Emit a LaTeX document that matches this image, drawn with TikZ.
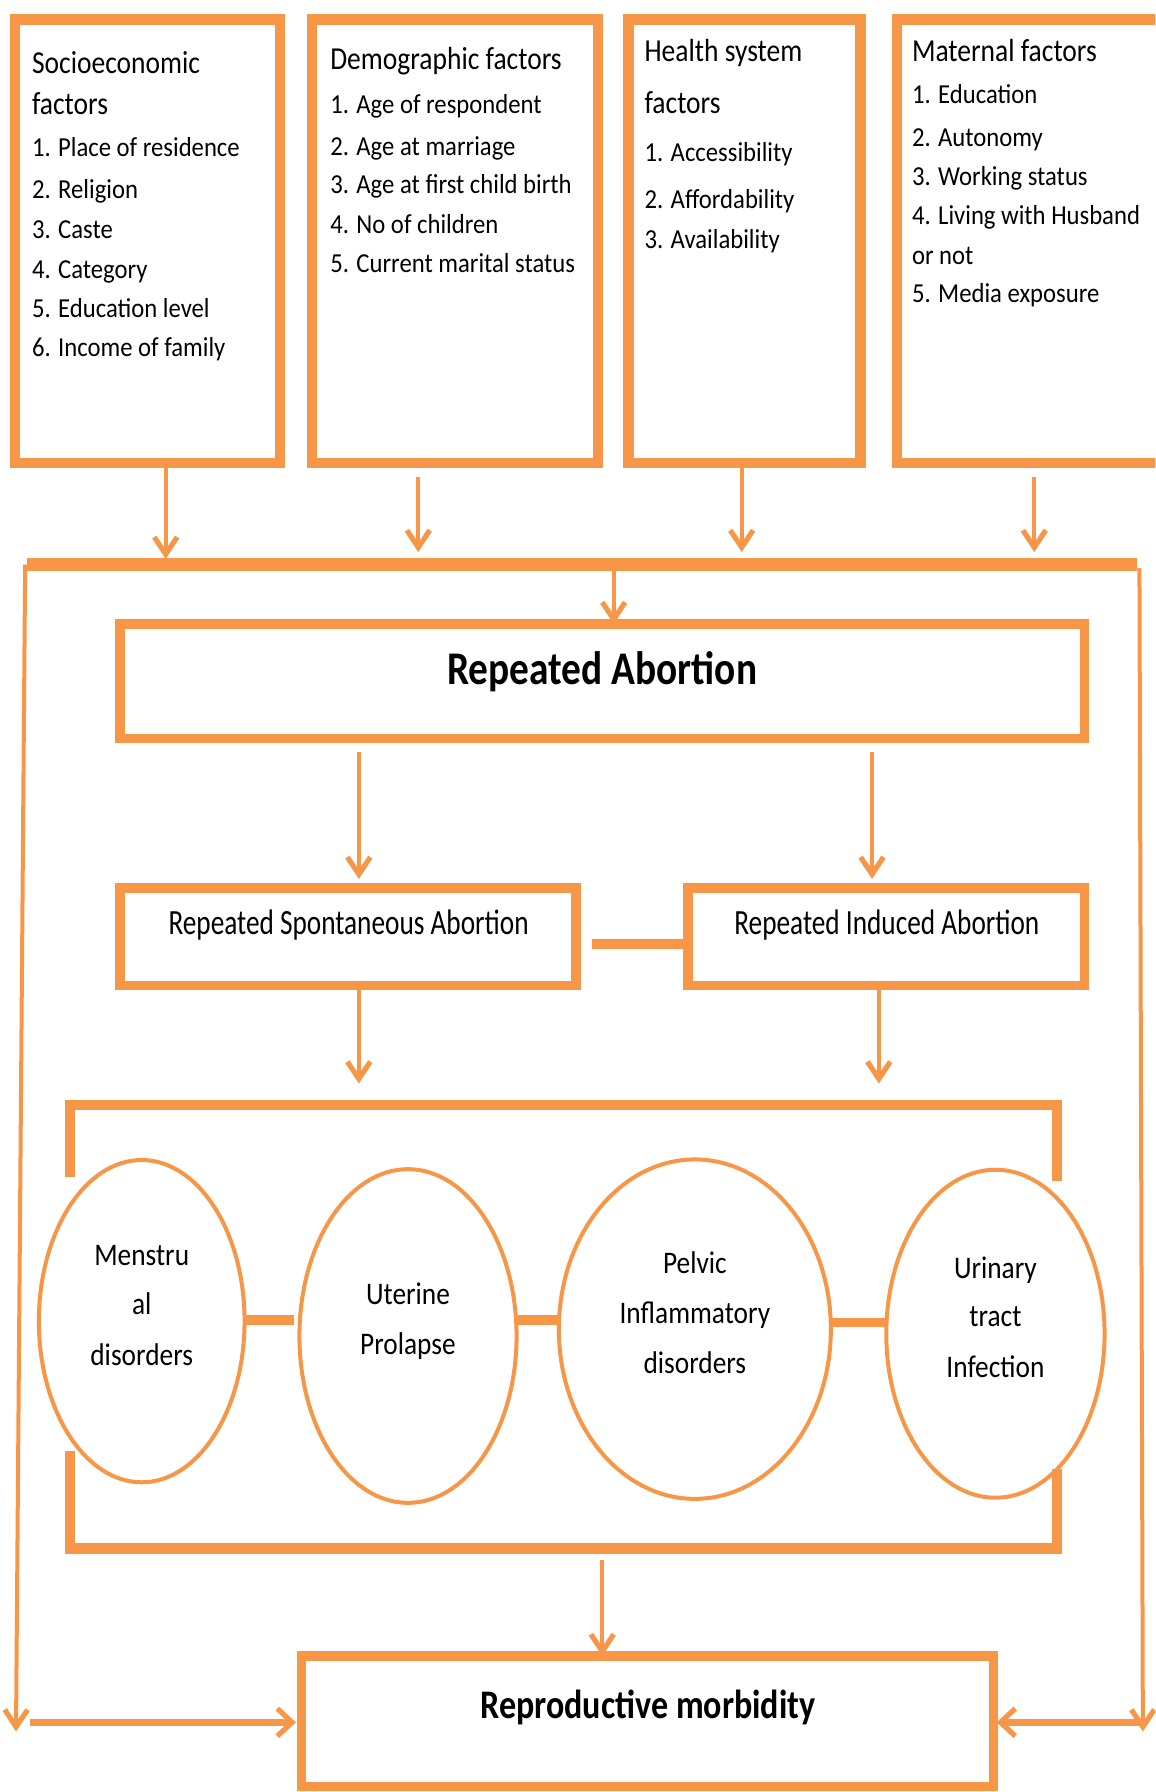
\documentclass[tikz,border=0pt]{standalone}
\usepackage{fontspec}
\setmainfont{Carlito}
\newfontfamily\fHead{Carlito}[FakeStretch=0.86]
\newfontfamily\fItem{Carlito}[FakeStretch=0.9]
\newfontfamily\fMid{Carlito}[FakeStretch=0.77]
\newfontfamily\fBig{Carlito}[FakeStretch=0.84]
\newfontfamily\fEll{Carlito}[FakeStretch=0.87]
\usetikzlibrary{arrows.meta,shapes.geometric}
\definecolor{org}{HTML}{F79646}
\begin{document}
\begin{tikzpicture}[x=1pt,y=-1pt,
  every node/.style={inner sep=0pt,outer sep=0pt},
  fbox/.style={draw=org,line width=9pt,rectangle},
  mbox/.style={draw=org,line width=8pt,rectangle},
  ell/.style={draw=org,line width=3.5pt,ellipse},
  arr/.style={draw=org,line width=3.5pt,-{Straight Barb[length=15pt,width=20pt,line width=4.5pt]}},
  harr/.style={draw=org,line width=6pt,-{Straight Barb[length=13pt,width=24pt,line width=4.5pt]}},
  barline/.style={draw=org,line width=11pt},
  brk/.style={draw=org,line width=9pt,line join=miter},
  conn/.style={draw=org,line width=8pt},
  txt/.style={anchor=base west,text=black},
  ctxt/.style={anchor=base,text=black},
  headf/.style={font=\fHead\fontsize{28}{30}\selectfont},
  itemf/.style={font=\fItem\fontsize{24}{26}\selectfont},
  midf/.style={font=\fMid\fontsize{31}{33}\selectfont},
  bigf/.style={font=\fBig\bfseries\fontsize{41}{43}\selectfont},
  repf/.style={font=\fBig\bfseries\fontsize{35.5}{37}\selectfont},
  ellf/.style={font=\fEll\fontsize{27.5}{30}\selectfont}
]
\useasboundingbox (0,0) rectangle (1011,1568);
\clip (0,0) rectangle (1011,1568);

% ---------- top factor boxes ----------
\node[fbox,minimum width=232pt,minimum height=388pt] (b1) at (129,211) {};
\node[fbox,minimum width=250pt,minimum height=388pt] (b2) at (398,211) {};
\node[fbox,minimum width=203pt,minimum height=388pt] (b3) at (651.5,211) {};
\node[fbox,minimum width=245pt,minimum height=388pt] (b4) at (907.5,211) {};

\node[txt,headf] (t1a) at (28,64) {Socioeconomic};
\node[txt,headf] (t1b) at (28,100) {factors};
\node[txt,itemf] (t1c) at (28,137) {1. Place of residence};
\node[txt,itemf] (t1d) at (28,174) {2. Religion};
\node[txt,itemf] (t1e) at (28,209) {3. Caste};
\node[txt,itemf] (t1f) at (28,244) {4. Category};
\node[txt,itemf] (t1g) at (28,278) {5. Education level};
\node[txt,itemf] (t1h) at (28,312) {6. Income of family};

\node[txt,headf] (t2a) at (289,61) {Demographic factors};
\node[txt,itemf] (t2b) at (289,99) {1. Age of respondent};
\node[txt,itemf] (t2c) at (289,136) {2. Age at marriage};
\node[txt,itemf] (t2d) at (289,169) {3. Age at first child birth};
\node[txt,itemf] (t2e) at (289,204) {4. No of children};
\node[txt,itemf] (t2f) at (289,238) {5. Current marital status};

\node[txt,headf] (t3a) at (564,54) {Health system};
\node[txt,headf] (t3b) at (564,99) {factors};
\node[txt,itemf] (t3c) at (564,141) {1. Accessibility};
\node[txt,itemf] (t3d) at (564,182) {2. Affordability};
\node[txt,itemf] (t3e) at (564,217) {3. Availability};

\node[txt,headf] (t4a) at (798,54) {Maternal factors};
\node[txt,itemf] (t4b) at (798,91) {1. Education};
\node[txt,itemf] (t4c) at (798,128) {2. Autonomy};
\node[txt,itemf] (t4d) at (798,162) {3. Working status};
\node[txt,itemf] (t4e) at (798,196) {4. Living with Husband};
\node[txt,itemf] (t4f) at (798,231) {or not};
\node[txt,itemf] (t4g) at (798,265) {5. Media exposure};

% ---------- collecting bar ----------
\coordinate (barL) at (24,494);
\coordinate (barR) at (995,494);
\draw[barline] (barL) -- (barR);

\coordinate (a1) at (145,489);
\coordinate (a2) at (366,483);
\coordinate (a3) at (649,483);
\coordinate (a4) at (905,483);
\draw[arr] (b1.south -| a1) -- (a1);
\draw[arr,shorten <=12pt] (b2.south -| a2) -- (a2);
\draw[arr] (b3.south -| a3) -- (a3);
\draw[arr,shorten <=12pt] (b4.south -| a4) -- (a4);

% ---------- repeated abortion ----------
\node[mbox,minimum width=844pt,minimum height=100pt] (ra) at (527,596) {};
\node[ctxt,bigf] (rat) at (527,599) {Repeated Abortion};
\coordinate (bc) at (537,494);
\draw[arr] (bc) -- (ra.north -| bc);

\node[mbox,minimum width=399pt,minimum height=85pt] (rs) at (304.5,819.5) {};
\node[mbox,minimum width=347pt,minimum height=85pt] (ri) at (775.5,819.5) {};
\node[ctxt,midf] (rst) at (305,818) {Repeated Spontaneous Abortion};
\node[ctxt,midf] (rit) at (776,818) {Repeated Induced Abortion};

\coordinate (xA) at (314,0);
\coordinate (xB) at (763,0);
\coordinate (xC) at (769,0);
\draw[arr,shorten <=12pt,shorten >=8pt] (ra.south -| xA) -- (rs.north -| xA);
\draw[arr,shorten <=12pt,shorten >=8pt] (ra.south -| xB) -- (ri.north -| xB);
\draw[conn,shorten <=14pt] (rs.east |- 0,826) -- (ri.west |- 0,826);

% ---------- bracket ----------
\coordinate (brTL) at (61,967);
\coordinate (brTR) at (925,967);
\coordinate (brBL) at (61,1355);
\coordinate (brBR) at (925,1355);
\draw[brk] (61,1030) -- (brTL) -- (brTR) -- (925,1033);
\draw[brk] (61,1270) -- (brBL) -- (brBR) -- (925,1285);

\draw[arr] (rs.south -| xA) -- (xA |- 0,948);
\draw[arr] (ri.south -| xC) -- (xC |- 0,948);

% ---------- ellipses ----------
\node[ell,minimum width=180pt,minimum height=282pt] (e1) at (124,1156) {};
\node[ell,minimum width=190pt,minimum height=292pt] (e2) at (357,1169) {};
\node[ell,minimum width=238pt,minimum height=297pt] (e3) at (608,1163) {};
\node[ell,minimum width=191pt,minimum height=287pt] (e4) at (871,1167) {};

\node[ctxt,ellf] (e1a) at (124,1107) {Menstru};
\node[ctxt,ellf] (e1b) at (124,1150) {al};
\node[ctxt,ellf] (e1c) at (124,1195) {disorders};
\node[ctxt,ellf] (e2a) at (357,1141) {Uterine};
\node[ctxt,ellf] (e2b) at (357,1185) {Prolapse};
\node[ctxt,ellf] (e3a) at (608,1114) {Pelvic};
\node[ctxt,ellf] (e3b) at (608,1158) {Inflammatory};
\node[ctxt,ellf] (e3c) at (608,1202) {disorders};
\node[ctxt,ellf] (e4a) at (871,1119) {Urinary};
\node[ctxt,ellf] (e4b) at (871,1161) {tract};
\node[ctxt,ellf] (e4c) at (871,1205) {Infection};

\draw[conn,shorten >=5pt] (e1.east |- 0,1155) -- (e2.west |- 0,1155);
\draw[conn] (e2.east |- 0,1155) -- (e3.west |- 0,1155);
\draw[conn] (e3.east |- 0,1157) -- (e4.west |- 0,1157);

% ---------- reproductive morbidity ----------
\node[mbox,minimum width=605pt,minimum height=114pt] (rep) at (566.5,1506) {};
\node[ctxt,repf] (rept) at (567,1504) {Reproductive morbidity};
\coordinate (bb) at (527,1365);
\draw[arr] (bb) -- (rep.north -| bb);

% ---------- side feedback lines ----------
\coordinate (lt) at (22,494);
\coordinate (lb) at (14,1515);
\coordinate (rt) at (997,497);
\coordinate (rb) at (1000,1515);
\draw[arr] (lt) -- (lb);
\draw[arr] (rt) -- (rb);
\draw[harr,shorten >=5pt] (26,1507) -- (rep.west |- 0,1507);
\draw[harr,shorten >=3pt] (998,1507) -- (rep.east |- 0,1507);
\end{tikzpicture}
\end{document}
